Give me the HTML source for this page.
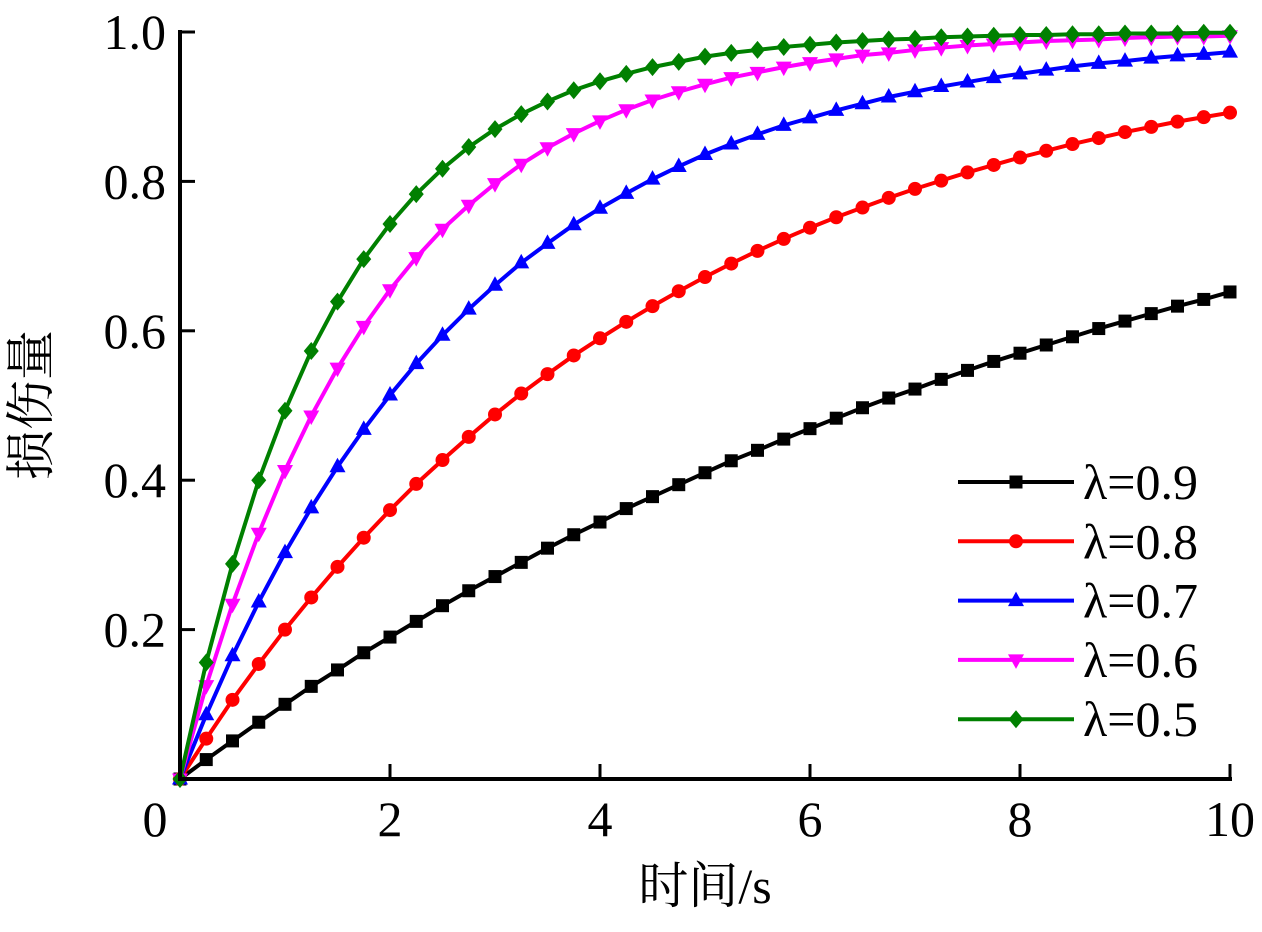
<!DOCTYPE html>
<html><head><meta charset="utf-8"><style>
body{margin:0;background:#fff}
text{font-family:"Liberation Serif","DejaVu Serif","Noto Serif CJK SC",serif}
.cjk{font-family:"Noto Serif CJK SC","Noto Sans CJK SC",serif}
</style></head><body>
<svg id="chart" width="1262" height="927">
<g id="series"></g>
<g id="axes"></g>
<g id="legend"></g>
<text class="cjk" x="48" y="405" font-size="50" text-anchor="middle" transform="rotate(-90 48 405)">损伤量</text>
<text x="705" y="903" font-size="50" text-anchor="middle"><tspan class="cjk">时间</tspan>/s</text>
</svg>
<script>
const tStep = 0.25;
const labels = ["λ=0.9","λ=0.8","λ=0.7","λ=0.6","λ=0.5"];
const s09 = [0,.026,.051,.076,.100,.124,.146,.169,.190,.211,.232,.252,.271,.290,.309,.327,.344,.362,.378,.394,.410,.426,.440,.455,.469,.483,.497,.510,.522,.535,.547,.559,.570,.581,.592,.603,.613,.623,.633,.642,.652];
const s08 = [0,.054,.106,.154,.200,.243,.284,.323,.360,.395,.427,.458,.488,.516,.542,.567,.590,.612,.633,.653,.672,.690,.707,.723,.738,.752,.765,.778,.790,.801,.812,.822,.832,.841,.850,.858,.866,.873,.880,.886,.892];
const s07 = [0,.086,.165,.237,.303,.363,.418,.468,.514,.556,.594,.629,.661,.691,.717,.742,.764,.784,.803,.820,.836,.850,.863,.875,.885,.895,.904,.913,.920,.927,.933,.939,.944,.949,.954,.958,.961,.965,.968,.970,.973];
const s06 = [0,.125,.234,.329,.413,.486,.550,.606,.655,.698,.736,.768,.797,.823,.845,.864,.881,.896,.909,.920,.930,.939,.946,.953,.959,.964,.969,.972,.976,.979,.982,.984,.986,.988,.989,.990,.992,.993,.994,.994,.995];
const s05 = [0,.156,.288,.400,.493,.573,.639,.696,.743,.783,.817,.846,.870,.890,.907,.922,.934,.944,.953,.960,.967,.972,.976,.980,.983,.986,.988,.990,.991,.993,.994,.995,.996,.996,.997,.997,.998,.998,.998,.999,.999];
const xTicks = [0,2,4,6,8,10];
const yTicks = [0.2,0.4,0.6,0.8,1.0];

const NS="http://www.w3.org/2000/svg";
const X0=180,X1=1230,Y0=779,Y1=32;
const sx=v=>X0+(X1-X0)*v/10, sy=v=>Y0-(Y0-Y1)*v;
function mk(tag,attrs,parent){const e=document.createElementNS(NS,tag);for(const k in attrs)e.setAttribute(k,attrs[k]);parent.appendChild(e);return e;}
const colors=["#000","#f00","#00f","#f0f","#008000"];
const shapes=["square","circle","up","down","diamond"];
function marker(shape,x,y,c,p){
  let e;
  if(shape==="square") e=mk("rect",{x:x-6.5,y:y-6.5,width:13,height:13,fill:c},p);
  else if(shape==="circle") e=mk("circle",{cx:x,cy:y,r:7,fill:c},p);
  else if(shape==="up") e=mk("polygon",{points:`${x},${y-9} ${x+8},${y+5.5} ${x-8},${y+5.5}`,fill:c},p);
  else if(shape==="down") e=mk("polygon",{points:`${x},${y+9} ${x+8},${y-5.5} ${x-8},${y-5.5}`,fill:c},p);
  else e=mk("polygon",{points:`${x},${y-9} ${x+7.5},${y} ${x},${y+9} ${x-7.5},${y}`,fill:c},p);
  return e;
}
const series=[s09,s08,s07,s06,s05];
const sg=document.getElementById("series");
series.forEach((d,i)=>{
  const g=mk("g",{},sg);
  
  
  const pts=d.map((v,j)=>sx(j*tStep)+","+sy(v)).join(" ");
  const pl=mk("polyline",{points:pts,fill:"none",stroke:colors[i],"stroke-width":4},g);
  
  
  d.forEach((v,j)=>{
    const m=marker(shapes[i],sx(j*tStep),sy(v),colors[i],g);
    
    
  });
});
const ax=document.getElementById("axes");
const yl=mk("line",{x1:X0,y1:Y1-2,x2:X0,y2:Y0+2,stroke:"#000","stroke-width":4},ax);


const xl=mk("line",{x1:X0-2,y1:Y0,x2:X1+2,y2:Y0,stroke:"#000","stroke-width":4},ax);


xTicks.forEach(v=>{
  const x=sx(v);
  if(v>0){const t=mk("line",{x1:x,y1:Y0,x2:x,y2:Y0-15,stroke:"#000","stroke-width":3},ax);
  
  }
  const tx=mk("text",{x:v===0?155:x,y:836,"font-size":50,"text-anchor":"middle"},ax);
  tx.textContent=String(v);
  
  
});
yTicks.forEach(v=>{
  const y=sy(v);
  const t=mk("line",{x1:X0,y1:y,x2:X0+15,y2:y,stroke:"#000","stroke-width":3},ax);
  
  
  const tx=mk("text",{x:166,y:y+17,"font-size":50,"text-anchor":"end"},ax);
  tx.textContent=v.toFixed(1);
  
  
});
const lg=document.getElementById("legend");
labels.forEach((l,i)=>{
  const y=482+i*59.3;
  const g=mk("g",{},lg);
  
  
  mk("line",{x1:958,y1:y,x2:1074,y2:y,stroke:colors[i],"stroke-width":4},g);
  marker(shapes[i],1016,y,colors[i],g);
  const tx=mk("text",{x:1083,y:y+17,"font-size":50},g);
  tx.textContent=l;
});
</script>
</body></html>
